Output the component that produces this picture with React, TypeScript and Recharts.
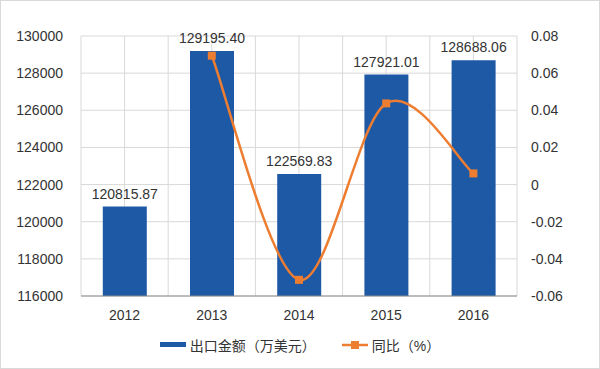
import {
  Bar,
  CartesianGrid,
  ComposedChart,
  LabelList,
  Legend,
  Line,
  XAxis,
  YAxis,
} from "recharts";

const YEARS = ["2012", "2013", "2014", "2015", "2016"];
const EXPORT_VALUES = [120815.87, 129195.4, 122569.83, 127921.01, 128688.06];
const YOY_VALUES: (number | null)[] = [null, 0.0694, -0.0513, 0.0437, 0.006];
const LEFT_TICKS = [116000, 118000, 120000, 122000, 124000, 126000, 128000, 130000];
const RIGHT_TICKS = [-0.06, -0.04, -0.02, 0, 0.02, 0.04, 0.06, 0.08];

const BLUE = "#1e59a5";
const ORANGE = "#ed7d31";
const FONT = "'Liberation Sans', 'Noto Sans CJK SC', sans-serif";

const data = YEARS.map((year, i) => ({
  year,
  amount: EXPORT_VALUES[i],
  yoy: YOY_VALUES[i],
}));

// excel-like smoothing (catmull-rom through the points)
function excelSmooth(context: any) {
  let pts: [number, number][] = [];
  return {
    areaStart() {},
    areaEnd() {},
    lineStart() {
      pts = [];
    },
    point(x: number, y: number) {
      pts.push([+x, +y]);
    },
    lineEnd() {
      if (!pts.length) return;
      context.moveTo(pts[0][0], pts[0][1]);
      for (let i = 0; i < pts.length - 1; i++) {
        const p0 = pts[Math.max(i - 1, 0)];
        const p1 = pts[i];
        const p2 = pts[i + 1];
        const p3 = pts[Math.min(i + 2, pts.length - 1)];
        context.bezierCurveTo(
          p1[0] + (p2[0] - p0[0]) / 6,
          p1[1] + (p2[1] - p0[1]) / 6,
          p2[0] - (p3[0] - p1[0]) / 6,
          p2[1] - (p3[1] - p1[1]) / 6,
          p2[0],
          p2[1]
        );
      }
    },
  };
}

const SquareDot = (props: any) => {
  const { cx, cy } = props;
  if (cx == null || cy == null || props.value == null) return null;
  return <rect x={cx - 4} y={cy - 4} width={8} height={8} fill={ORANGE} />;
};

const LegendContent = () => (
  <div
    style={{
      height: 40,
      display: "flex",
      justifyContent: "center",
      alignItems: "center",
      paddingBottom: 9,
      boxSizing: "border-box",
      fontFamily: FONT,
      fontSize: 14,
      color: "#333",
    }}
  >
    <span style={{ display: "inline-block", width: 26, height: 5, background: BLUE, marginRight: 4 }} />
    <span style={{ marginRight: 26 }}>出口金额（万美元）</span>
    <svg width={26} height={10} style={{ marginRight: 4 }}>
      <line x1={0} y1={5} x2={26} y2={5} stroke={ORANGE} strokeWidth={2.5} />
      <rect x={9} y={1} width={8} height={8} fill={ORANGE} />
    </svg>
    <span>同比（%）</span>
  </div>
);

export default function App() {
  return (
    <div style={{ position: "absolute", left: 0, top: 0, width: 600, height: 369, background: "#fff" }}>
      <ComposedChart
        width={600}
        height={369}
        data={data}
        margin={{ top: 36, right: 0, bottom: 0, left: 0 }}
        barCategoryGap="25%"
      >
        <CartesianGrid
          stroke="#d9d9d9"
          verticalCoordinatesGenerator={({ offset }: any) =>
            Array.from({ length: YEARS.length * 2 + 1 }, (_, i) => offset.left + (i * offset.width) / (YEARS.length * 2))
          }
          yAxisId="left"
        />
        <XAxis
          dataKey="year"
          height={33}
          tickLine={false}
          axisLine={{ stroke: "#8c8c8c" }}
          tick={{ fill: "#333", fontSize: 14, fontFamily: FONT }}
          tickMargin={8}
        />
        <YAxis
          yAxisId="left"
          width={81}
          domain={[116000, 130000]}
          ticks={LEFT_TICKS}
          allowDataOverflow
          axisLine={false}
          tickLine={false}
          tickMargin={12}
          tick={{ fill: "#333", fontSize: 14, fontFamily: FONT }}
        />
        <YAxis
          yAxisId="right"
          orientation="right"
          width={83}
          domain={[-0.06, 0.08]}
          ticks={RIGHT_TICKS}
          axisLine={false}
          tickLine={false}
          tickMargin={8}
          tickFormatter={(v: number) => String(Number(v.toFixed(2)))}
          tick={{ fill: "#333", fontSize: 14, fontFamily: FONT, textAnchor: "start" }}
        />
        <Bar yAxisId="left" dataKey="amount" fill={BLUE} isAnimationActive={false}>
          <LabelList
            dataKey="amount"
            position="top"
            offset={8}
            formatter={(v: any) => Number(v).toFixed(2)}
            style={{ fill: "#333", fontSize: 14, fontFamily: FONT }}
          />
        </Bar>
        <Line
          yAxisId="right"
          dataKey="yoy"
          type={excelSmooth as any}
          stroke={ORANGE}
          strokeWidth={2.5}
          dot={<SquareDot />}
          activeDot={false}
          isAnimationActive={false}
        />
        <Legend verticalAlign="bottom" content={<LegendContent />} />
      </ComposedChart>
      <div
        style={{
          position: "absolute",
          inset: 0,
          border: "1px solid #d9d9d9",
          pointerEvents: "none",
        }}
      />
    </div>
  );
}
